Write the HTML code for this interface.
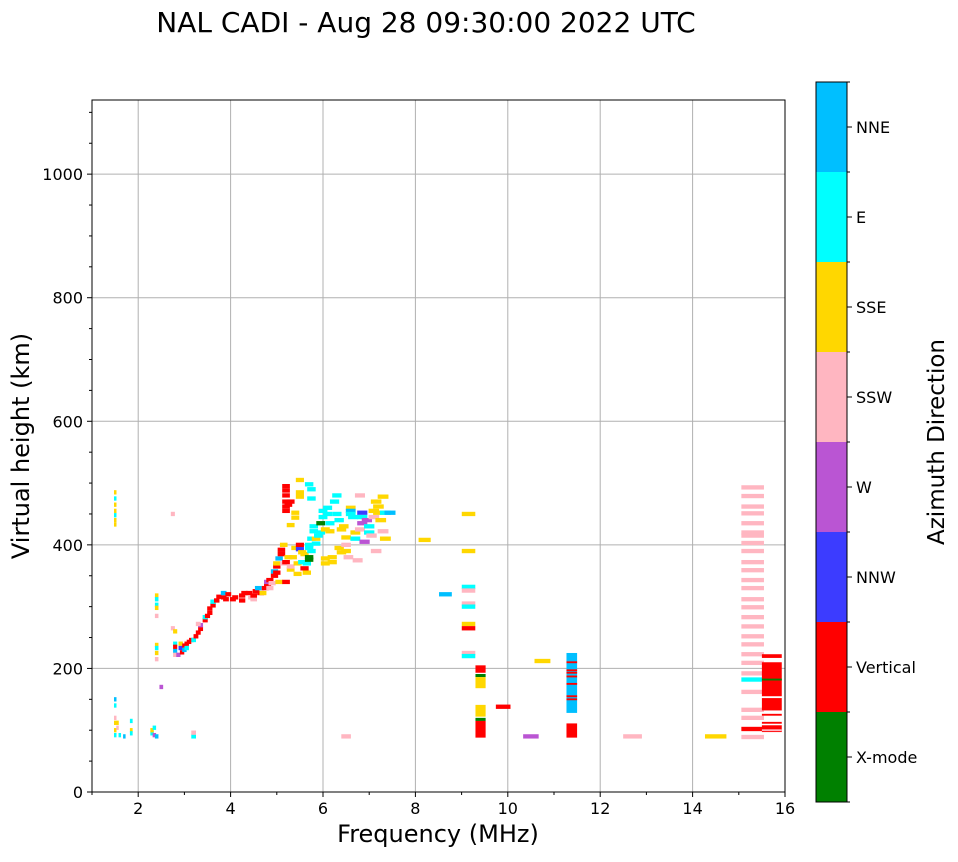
<!DOCTYPE html>
<html><head><meta charset="utf-8">
<style>
body{margin:0;background:#fff;}
svg text{font-family:"DejaVu Sans","Liberation Sans",sans-serif;fill:#000;}
</style></head>
<body>
<svg id="chart" width="958" height="857" viewBox="0 0 958 857" xmlns="http://www.w3.org/2000/svg">
<rect x="0" y="0" width="958" height="857" fill="#fff"/>
<text x="426" y="32" font-size="28" text-anchor="middle">NAL CADI - Aug 28 09:30:00 2022 UTC</text>
<g id="grid"></g>
<g id="marks"></g>
<rect x="92" y="100" width="693" height="692" fill="none" stroke="#000" stroke-width="1"/>
<g id="axes"></g>
<text x="438" y="842" font-size="24" text-anchor="middle">Frequency (MHz)</text>
<text transform="translate(29,446) rotate(-90)" font-size="24" text-anchor="middle">Virtual height (km)</text>
<g id="cbar"></g>
<text transform="translate(944,442) rotate(-90)" font-size="23" text-anchor="middle">Azimuth Direction</text>
</svg>
<script>
const directions = ["X-mode","Vertical","NNW","W","SSW","SSE","E","NNE"];
const dirColors = ["#008000","#ff0000","#3c3cff","#ba55d3","#ffb6c1","#ffd700","#00ffff","#00bfff"];
const xTicks = [2,4,6,8,10,12,14,16];
const yTicks = [0,200,400,600,800,1000];
// echoes: [freq MHz, virtual height km, direction index]
const echoes = [
[1.5,485,5],[1.5,475,6],[1.5,465,5],[1.5,455,5],[1.5,448,6],[1.5,440,5],[1.5,433,5],
[1.5,150,7],[1.5,140,6],[1.5,120,4],[1.5,112,5],[1.5,100,5],[1.5,92,6],[1.55,112,5],[1.55,104,4],[1.6,92,6],[1.7,90,7],[1.85,115,6],[1.85,100,5],[1.85,95,6],
[2.3,95,6],[2.3,100,5],[2.35,92,3],[2.4,90,7],[2.35,104,6],
[2.4,318,5],[2.4,312,6],[2.4,303,6],[2.4,298,5],[2.4,285,4],[2.4,238,5],[2.4,233,6],[2.4,225,5],[2.4,215,4],[2.5,170,3],[2.75,450,4],
[2.75,265,4],[2.8,260,5],[2.8,240,6],[2.8,235,1],[2.8,228,7],[2.8,222,4],[2.87,222,3],[2.95,226,1],[2.92,240,5],[2.92,233,2],[3.0,237,1],[3.0,230,7],[3.05,240,1],[3.05,233,6],[3.1,243,1],[3.15,246,1],[3.2,246,6],[3.2,90,6],[3.2,96,4],
[3.25,252,1],[3.3,258,1],[3.35,264,1],[3.35,270,3],[3.3,272,4],[3.45,278,1],[3.45,283,6],[3.5,285,1],[3.55,290,1],[3.55,297,1],[3.62,302,1],[3.62,308,6],[3.7,310,1],[3.75,316,1],[3.85,315,1],[3.85,322,7],[3.9,312,1],[3.95,320,1],
[4.05,312,1],[4.1,315,1],[4.25,310,1],[4.25,318,1],[4.3,322,1],[4.4,322,1],[4.45,315,4],[4.5,312,4],[4.5,318,1],[4.55,325,1],[4.6,330,7],[4.65,322,1],[4.7,322,5],[4.75,330,1],[4.8,335,1],[4.8,340,3],[4.85,343,1],[4.85,330,4],[4.9,338,4],
[4.95,350,1],[4.95,357,7],[5.0,355,1],[5.0,365,1],[5.0,370,5],[5.05,340,5],[5.05,378,7],[5.1,385,1],[5.1,392,1],[5.15,370,4],[5.2,340,1],[5.15,400,5],[5.2,372,1],[5.25,380,5],[5.3,360,5],[5.3,365,4],
[5.2,495,1],[5.2,488,1],[5.2,480,1],[5.2,470,1],[5.2,462,1],[5.2,455,1],[5.3,470,1],[5.25,465,1],[5.3,432,5],[5.4,452,5],[5.4,444,5],[5.35,380,5],[5.4,395,5],[5.45,370,5],[5.45,353,5],
[5.5,505,5],[5.5,485,5],[5.5,478,5],[5.5,400,1],[5.5,393,2],[5.55,388,5],[5.55,372,6],[5.6,385,5],[5.6,362,1],[5.65,370,6],[5.65,355,5],[5.7,395,6],[5.7,400,6],[5.7,380,0],[5.7,376,0],[5.75,390,6],[5.75,410,6],[5.7,498,6],[5.75,490,6],[5.75,475,6],
[5.8,430,6],[5.8,422,6],[5.85,410,5],[5.85,402,6],[5.9,415,6],[5.95,420,6],[5.95,435,0],[6.0,455,6],[6.0,445,6],[6.05,425,5],[6.05,378,5],[6.05,370,5],[6.1,460,6],[6.1,450,6],[6.15,435,6],[6.15,422,5],[6.2,380,5],[6.2,372,5],[6.25,470,6],[6.3,480,6],
[6.3,450,6],[6.35,440,6],[6.4,425,5],[6.35,395,5],[6.4,388,5],[6.45,430,5],[6.5,412,5],[6.5,400,4],[6.5,390,5],[6.55,380,4],[6.6,460,5],[6.6,455,7],[6.6,450,6],[6.65,445,6],[6.7,420,5],[6.7,410,6],[6.75,375,4],[6.8,480,4],[6.85,452,2],[6.85,445,6],
[6.85,435,3],[6.8,425,4],[6.9,405,3],[6.95,440,3],[7.0,430,6],[7.0,420,6],[7.05,415,4],[7.1,455,5],[7.1,445,4],[7.15,470,5],[7.15,390,4],[7.2,462,5],[7.2,452,5],[7.25,440,5],[7.3,478,5],[7.3,422,4],[7.35,410,5],[7.35,452,6],[7.45,452,7],
[6.5,90,4],[8.2,408,5],[8.65,320,7],[9.15,450,5],[9.15,390,5],[9.15,332,6],[9.15,326,4],[9.15,305,4],[9.15,300,6],[9.15,272,5],[9.15,265,1],[9.15,225,4],[9.15,220,6],
[9.9,138,1],[10.75,212,5],[10.5,90,3],[12.7,90,4],[14.5,90,5],
[15.3,493,4],[15.3,479,4],[15.3,462,4],[15.3,451,4],[15.3,435,4],[15.3,420,4],[15.3,415,4],[15.3,403,4],[15.3,390,4],[15.3,372,4],[15.3,359,4],[15.3,343,4],[15.3,330,4],[15.3,312,4],[15.3,299,4],[15.3,283,4],[15.3,268,4],[15.3,252,4],[15.3,239,4],[15.3,223,4],[15.3,209,4],[15.3,192,4],[15.3,182,6],[15.3,162,4],[15.3,133,4],[15.3,120,4],[15.3,102,1],[15.3,89,4]
];
// blocks: [freq start, freq end, height low, height high, direction index]
const blocks = [
[9.3,9.52,193,205,1],[9.3,9.52,186,191,0],[9.3,9.52,168,186,5],[9.3,9.52,122,141,5],[9.3,9.52,115,120,0],[9.3,9.52,88,115,1],
[11.27,11.5,128,225,7],[11.27,11.5,88,111,1],
[15.5,15.93,217,223,1],[15.5,15.93,155,210,1],[15.5,15.93,132,152,1],[15.5,15.93,97,108,1]
];
// thin stripes inside blocks: [freq start, freq end, height, direction index]
const stripes = [
[11.27,11.5,210,1],[11.27,11.5,197,1],[11.27,11.5,193,1],[11.27,11.5,187,1],[11.27,11.5,175,1],[11.27,11.5,155,1],[11.27,11.5,150,1],
[15.5,15.93,182,0],[15.5,15.93,125,1],[15.5,15.93,112,1],[15.5,15.93,100,4]
];
const NS="http://www.w3.org/2000/svg";
const X0=92,X1=785,Y0=792,Y1=100,FMIN=1,FMAX=16,HMIN=0,HMAX=1120;
const xs=f=>X0+(f-FMIN)/(FMAX-FMIN)*(X1-X0);
const ys=h=>Y0-(h-HMIN)/(HMAX-HMIN)*(Y0-Y1);
function mk(tag,attrs,parent){const e=document.createElementNS(NS,tag);for(const k in attrs)e.setAttribute(k,attrs[k]);parent.appendChild(e);return e;}
const grid=document.getElementById('grid'),axes=document.getElementById('axes'),marks=document.getElementById('marks'),cbar=document.getElementById('cbar');
xTicks.forEach(t=>{
  const x=xs(t);
  if(t<FMAX){const g=mk('line',{x1:x,x2:x,y1:Y1,y2:Y0,stroke:'#b0b0b0','stroke-width':1},grid);
  
  }
  const tk=mk('line',{x1:x,x2:x,y1:Y0,y2:Y0+5,stroke:'#000'},axes);
  
  
  const tl=mk('text',{x:x,y:Y0+22,'font-size':16,'text-anchor':'middle'},axes);tl.textContent=t;
  
  
});
for(let t=1;t<FMAX;t+=2){const x=xs(t);const m=mk('line',{x1:x,x2:x,y1:Y0,y2:Y0+3,stroke:'#000'},axes);
  
  }
yTicks.forEach(t=>{
  const y=ys(t);
  if(t>0){const g=mk('line',{x1:X0,x2:X1,y1:y,y2:y,stroke:'#b0b0b0','stroke-width':1},grid);
  
  }
  const tk=mk('line',{x1:X0-5,x2:X0,y1:y,y2:y,stroke:'#000'},axes);
  
  
  const tl=mk('text',{x:X0-9,y:y+6,'font-size':16,'text-anchor':'end'},axes);tl.textContent=t;
  
  
});
for(let t=50;t<HMAX;t+=50){if(t%200===0)continue;const y=ys(t);const m=mk('line',{x1:X0-3,x2:X0,y1:y,y2:y,stroke:'#000'},axes);
  
  }
echoes.forEach(d=>{
  const w=d[0]*0.032, x=xs(d[0]-w/2), x2=xs(d[0]+w/2);
  const r=mk('rect',{x:x,y:ys(d[1]+3.5),width:Math.max(2.5,x2-x),height:ys(d[1]-3.5)-ys(d[1]+3.5),fill:dirColors[d[2]]},marks);
  
  
});
blocks.forEach(b=>{
  const r=mk('rect',{x:xs(b[0]),y:ys(b[3]),width:xs(b[1])-xs(b[0]),height:ys(b[2])-ys(b[3]),fill:dirColors[b[4]]},marks);
  
  
});
stripes.forEach(s=>{
  const r=mk('rect',{x:xs(s[0]),y:ys(s[2]+1.5),width:xs(s[1])-xs(s[0]),height:ys(s[2]-1.5)-ys(s[2]+1.5),fill:dirColors[s[3]]},marks);
  
  
});
const CB0=82,CB1=802,CBX=816,CBW=31,seg=(CB1-CB0)/directions.length;
directions.forEach((d,i)=>{
  const y=CB1-(i+1)*seg;
  const r=mk('rect',{x:CBX,y:y,width:CBW,height:seg,fill:dirColors[i]},cbar);
  
  
  const tk=mk('line',{x1:CBX+CBW,x2:CBX+CBW+5,y1:y+seg/2,y2:y+seg/2,stroke:'#000'},cbar);
  
  
  const t=mk('text',{x:CBX+CBW+9,y:y+seg/2+6,'font-size':16},cbar);t.textContent=d;
  
  
});
for(let i=0;i<=directions.length;i++){const y=CB1-i*seg;const m=mk('line',{x1:CBX+CBW,x2:CBX+CBW+3,y1:y,y2:y,stroke:'#000'},cbar);
  
  }
const fr=mk('rect',{x:CBX,y:CB0,width:CBW,height:CB1-CB0,fill:'none',stroke:'#000','stroke-width':1},cbar);


</script>
</body></html>
